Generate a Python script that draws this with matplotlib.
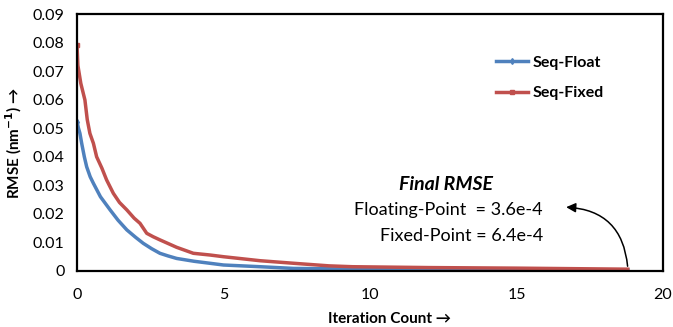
import matplotlib.pyplot as plt

plt.rcParams['font.family'] = ['Lato', 'DejaVu Sans']

# Data
float_x = [0, 0.05, 0.1, 0.16, 0.25, 0.33, 0.45, 0.56, 0.8, 1.13, 1.4, 1.7, 2.0,
           2.26, 2.55, 2.83, 3.1, 3.4, 4.0, 4.54, 5.0, 6.25, 7.4, 9.4, 12, 15, 18.8]
float_y = [0.0523, 0.050, 0.0482, 0.0447, 0.040, 0.0365, 0.033, 0.0307, 0.026,
           0.0214, 0.0178, 0.0144, 0.0118, 0.0097, 0.0078, 0.0062, 0.0053, 0.0044,
           0.0034, 0.0027, 0.0021, 0.0015, 0.0009, 0.0007, 0.0005, 0.0004, 0.00036]

fixed_x = [0, 0.03, 0.13, 0.27, 0.35, 0.44, 0.56, 0.67, 0.85, 1.01, 1.24, 1.45,
           1.70, 1.95, 2.15, 2.38, 2.6, 2.83, 3.4, 3.97, 4.54, 5.0, 6.25, 7.4,
           8.6, 9.4, 12, 15, 18.8]
fixed_y = [0.0791, 0.072, 0.0657, 0.0599, 0.053, 0.0482, 0.0447, 0.040, 0.036,
           0.0319, 0.0272, 0.024, 0.0214, 0.0185, 0.0167, 0.0132, 0.0120, 0.0109,
           0.0083, 0.0062, 0.0056, 0.0050, 0.0036, 0.0027, 0.0018, 0.0015,
           0.0012, 0.0010, 0.00064]

x_ticks = [0, 5, 10, 15, 20]
y_ticks = [0, 0.01, 0.02, 0.03, 0.04, 0.05, 0.06, 0.07, 0.08, 0.09]
y_labels = ['0', '0.01', '0.02', '0.03', '0.04', '0.05', '0.06', '0.07', '0.08', '0.09']

fig, ax = plt.subplots(figsize=(6.73, 3.27), dpi=100)
fig.subplots_adjust(left=77/673, right=663/673, top=1-14/327, bottom=1-271/327)

ax.plot(float_x, float_y, color='#4F81BD', lw=2.5, marker='d', ms=3, markevery=[0],
        label='Seq-Float')
ax.plot(fixed_x, fixed_y, color='#C0504D', lw=2.5, marker='s', ms=3, markevery=[0],
        label='Seq-Fixed')

ax.set_xlim(0, 20)
ax.set_ylim(0, 0.09)
ax.set_xticks(x_ticks)
ax.set_yticks(y_ticks)
ax.set_yticklabels(y_labels)
ax.tick_params(length=0, labelsize=11.5)
ax.tick_params(axis='x', pad=12)
ax.tick_params(axis='y', pad=9)
for s in ax.spines.values():
    s.set_linewidth(1.6)
    s.set_color('black')

ax.set_xlabel('Iteration Count \u2192', fontsize=11, fontweight='bold')
ax.xaxis.set_label_coords(0.534, -0.16)
ax.set_ylabel('RMSE (nm$^{\\mathbf{-1}}$) \u2192', fontsize=11, fontweight='bold')
ax.yaxis.set_label_coords(-0.09, 0.5)

ax.legend(loc='upper left', bbox_to_anchor=(0.69, 0.895), frameon=False,
          handlelength=2.0, handletextpad=0.3, labelspacing=1.05,
          prop={'weight': 'bold', 'size': 11.5})

ax.text(12.58, 0.0302, 'Final RMSE', fontsize=14, fontweight='bold', style='italic',
        ha='center', va='center')
ax.text(15.9, 0.0214, 'Floating-Point  = 3.6e-4', fontsize=13, ha='right', va='center')
ax.text(15.9, 0.0123, 'Fixed-Point = 6.4e-4', fontsize=13, ha='right', va='center')

ax.annotate('', xy=(16.6, 0.0224), xytext=(18.8, 0.0007),
            arrowprops=dict(arrowstyle='-|>', color='black', lw=1.1,
                            connectionstyle='arc3,rad=0.45', mutation_scale=14))

plt.savefig('out.png', dpi=100)
